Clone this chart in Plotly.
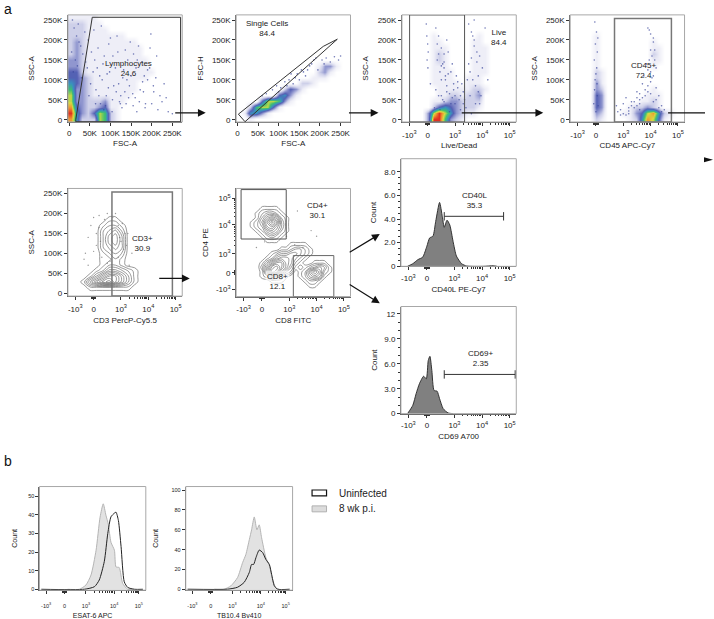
#!/usr/bin/python3
"""Flow cytometry gating figure: dot plots, contour plots and histograms."""

import plotly.graph_objs as go

WIDTH, HEIGHT = 714, 619
TEXT = '#222222'
FONT = 'Liberation Sans'

# density, one digit per cell, top row first
LYMPH_GRID = [
    '11111000000000000000', '22211100000000000000', '22211110000000000000',
    '22211111110000000000', '23211111111100000000', '23211111111110000000',
    '23211111111110000000', '33211111111111000000', '33211111111111000000',
    '44211111111111100000', '44321111111111000000', '54321111111100000000',
    '63321111111100000000', '73321111111000000000', '73322231110000000000',
    '84322341100000000000', '95324762100000000000', '85222762100000000000']
SINGLE_GRID = [
    '00000000000000000000', '00000000000000000000', '00000000000000000000',
    '00000000000000000000', '00000000000000000000', '00000000000000000000',
    '00000000000000000000', '00000000000000000000', '00000000000000133100',
    '00000000000000231000', '00000000000001110000', '00000000000221000000',
    '00000000243100000000', '00000004531000000000', '00004776310000000000',
    '00267741000000000000', '01553100000000000000', '00100000000000000000']
LIVE_GRID = [
    '00000000000000000000', '00000000000000000000', '00000000000000000000',
    '00000100000001000000', '00000110000011000000', '00000111000011100000',
    '00000121000011100000', '00000121000011100000', '00000111000011100000',
    '00000111100011100000', '00000111100111000000', '00000111110111000000',
    '00000011111122100000', '00000011221223000000', '00000112332222000000',
    '00000245432221000000', '00003797532110000000', '00003996321000000000']
CD45_GRID = [
    '00000000000000000000', '00000000000000000000', '00000000000000000000',
    '00001000000000000000', '00001000000000100000', '00001000000000110000',
    '00001000000000210000', '00001000000000110000', '00001000000000100000',
    '00002100000000000000', '00002100000000000000', '00003100000000000000',
    '00003200000000100000', '00004300000001110000', '00004300000011210000',
    '00004300001223210000', '00003200011347852100', '00002100001258741000']

# contour levels
CD3_GRID = [
    '000000000000000000', '000000000000000000', '000000000000000000',
    '000000000000000000', '000000000000000000', '000000110000000000',
    '000001221000000000', '000002342000000000', '000002453000000000',
    '000002453000000000', '000002343000000000', '000001232000000000',
    '000001121000000000', '000001221000000000', '000012443210000000',
    '000135775310000000', '001468975310000000', '000111111100000000',
    '000000000000000000']
CD4_CD8_GRID = [
    '000000000000000000000000', '000000000000000000000000', '000000000000000000000000',
    '000000000000000000000000', '000001111000000000000000', '000012332100000000000000',
    '000013565210000000000000', '000124797310000000000000', '000123675310000000000000',
    '000012454210000000000000', '000001232100000000000000', '000000111000000000000000',
    '000000000001111000000000', '000000000112332100000000', '000000012334432100000000',
    '000000124554321000000000', '000001357754210011100000', '000002589753101234310000',
    '000001598532012575210000', '000001243210012454100000', '000000011100001221000000',
    '000000000000000110000000', '000000000000000000000000', '000000000000000000000000']

# single events scattered round the dense areas, x then y
LYMPH_DOT_X = [8, 12, 18, 22, 28, 33, 6, 15, 24, 38, 44, 10, 20, 30, 40, 52, 58, 65, 72, 80,
               88, 95, 105, 112, 120, 128, 135, 142, 150, 160, 168, 178, 185, 195, 205, 215,
               225, 240, 70, 85, 100, 118, 132, 148, 165, 182, 198, 212, 76, 92, 108, 125,
               140, 155, 172, 190, 230, 250,
               46, 54, 62, 68, 74, 82, 90, 98, 106, 114, 122, 130, 138, 146, 154, 162, 170,
               180, 190, 200, 210, 220, 235, 60, 78, 96, 116, 136, 156, 176, 196, 48, 64, 84,
               104, 124, 144, 164, 184, 204]
LYMPH_DOT_Y = [250, 230, 210, 240, 185, 165, 170, 150, 195, 220, 130, 120, 135, 105, 145, 90,
               120, 75, 60, 100, 35, 80, 50, 130, 90, 30, 70, 150, 110, 55, 185, 95, 40, 130,
               70, 25, 45, 20, 180, 160, 205, 170, 125, 195, 150, 110, 215, 160, 40, 115, 85,
               60, 100, 35, 75, 125, 90, 15,
               200, 170, 150, 130, 110, 140, 60, 120, 160, 70, 45, 105, 40, 85, 65, 130, 45,
               70, 100, 40, 105, 60, 55, 225, 235, 190, 210, 175, 165, 145, 180, 60, 40, 25,
               20, 40, 55, 20, 30, 85]
SINGLE_DOT_X = [60, 70, 85, 95, 105, 115, 125, 135, 145, 155, 165, 175, 185, 195, 205, 215,
                225, 235, 245, 250, 100, 120, 140, 160, 180, 130, 150, 170, 190, 210]
SINGLE_DOT_Y = [60, 65, 75, 85, 80, 95, 100, 90, 115, 125, 110, 135, 150, 125, 150, 155,
                145, 158, 150, 160, 70, 85, 105, 120, 140, 115, 100, 125, 155, 140]
LIVE_DOT_X = [-0.05, -0.03, 0, 0.02, -0.02, 0.01, 0.3, 0.4, 0.5, 0.6, 0.7, 0.35, 0.45, 0.55,
              0.65, 0.75, 0.85, 0.95, 0.3, 0.5, 0.7, 0.9, 1.1, 1.2, 1.3, 1.4, 1.5, 1.6, 1.7,
              1.8, 1.9, 2, 2.1, 1.55, 1.65, 1.75, 1.85, 1.95, 0.25, 0.45, 0.6, 0.8, 1.0, 1.2,
              1.6, 1.9, 1.45, 1.7, 2.2, 0.1,
              0.4, 0.55, 0.7, 0.85, 1, 1.15, 1.3, 0.5, 0.65, 0.8, 0.95, 1.1, 1.25, 0.6, 0.9,
              1.05, 0.35, 0.5, 0.75, 1.35, 1.5, 1.6, 1.7, 1.8, 1.55, 1.75, 1.65, 1.85, 0.4, 0.6]
LIVE_DOT_Y = [240, 210, 190, 170, 150, 130, 230, 210, 180, 165, 200, 150, 120, 140, 100, 170,
              120, 90, 75, 60, 85, 55, 80, 60, 40, 30, 240, 220, 200, 170, 160, 130, 230, 120,
              100, 85, 70, 60, 30, 25, 45, 20, 40, 25, 15, 40, 100, 250, 100, 90,
              60, 50, 70, 40, 60, 50, 70, 100, 110, 65, 75, 95, 90, 130, 140, 110, 190, 135,
              115, 50, 140, 155, 185, 145, 60, 40, 210, 110, 165, 145]
CD45_DOT_X = [-0.04, 0.02, -0.02, 0.05, -0.06, 0.03, 0, 0.07, -0.03, 0.04, 1.9, 2.0, 2.1, 2.15,
              2.05, 1.95, 2.2, 2.0, 2.1, 1.85, 1.7, 1.8, 1.6, 1.5, 1.4, 1.3, 1.2, 1.0, 0.9, 0.8,
              1.5, 1.6, 2.3, 2.4, 2.5, 1.1, 1.9, 1.75, 2.2, 0.75,
              1.0, 1.2, 1.4, 1.6, 1.8, 2.0, 2.2, 2.4, 1.1, 1.3, 1.5, 1.7, 1.9, 2.1, 2.3, 0.9,
              1.2, 1.6, 2.0, -0.05, 0.05, -0.08, 0.08, 0, 2.0, 2.1, 1.9, 2.05, 1.95, 2.15]
CD45_DOT_Y = [245, 220, 190, 170, 150, 130, 115, 205, 100, 90, 230, 215, 195, 175, 160, 150,
              130, 120, 110, 140, 90, 75, 65, 55, 45, 35, 30, 40, 25, 20, 70, 50, 60, 35, 25,
              55, 85, 110, 80, 35,
              15, 22, 30, 40, 60, 65, 50, 20, 12, 45, 35, 55, 70, 45, 30, 12, 15, 25, 95, 75,
              60, 40, 35, 20, 175, 205, 125, 105, 225, 150]
CD3_DOT_X = [-0.3, -0.2, -0.1, 0, 0.1, 0.2, 0.3, 0.5, 0.7, 0.9, 1, 1.2, 1.4, -0.2, 0.1, 0.4,
             0.9, 1.1, 1.3, 0.2, 0.5, 0.8, 1.15, -0.35, 0, 1.05, 0.25, 0.95, 1.25, 0.6]
CD3_DOT_Y = [100, 140, 170, 190, 120, 195, 90, 200, 190, 170, 130, 120, 100, 70, 150, 185,
             90, 110, 70, 165, 75, 200, 150, 85, 105, 175, 130, 140, 150, 80]
CD4_DOT_X = [1.2, 1.8, 2.0, 1.5, 0.9, 1.3, -0.2, 0.1]
CD4_DOT_Y = [1.0, 1.5, 1.3, 0.9, 1.3, 2.2, 0.9, 1.1]

# histograms
CD40L_X = [-0.70, -0.51, -0.33, -0.15, 0, 0.10, 0.22, 0.32, 0.46, 0.56, 0.63, 0.73,
           0.83, 0.95, 1.07, 1.26, 1.44, 2.05, 2.41, 2.54]
CD40L_Y = [0, 0.22, 0.56, 0.78, 1.70, 2.4, 2.55, 3.8, 5.4, 4.2, 3.3, 3.9,
           3.5, 2.1, 0.87, 0.22, 0.03, 0, 0.05, 0]
CD69_X = [-0.70, -0.51, -0.39, -0.27, -0.12, -0.02, 0.05, 0.11, 0.18, 0.26, 0.37,
          0.46, 0.59, 0.77, 0.95]
CD69_Y = [0, 1.0, 2.4, 3.6, 4.5, 4.2, 6.4, 6.9, 5.2, 2.8, 2.7, 1.8, 0.6, 0.08, 0]

ESAT_INF_X = [0.12, 0.56, 0.81, 1.0, 1.19, 1.34, 1.46, 1.56, 1.65, 1.75, 1.88, 1.94,
              2.06, 2.19, 2.38, 2.63]
ESAT_INF_Y = [0, 0, 2.3, 7.7, 21, 38.8, 46, 39.9, 35, 25.3, 21, 12, 11.7, 3.2, 0, 0]
ESAT_UNI_X = [-0.87, 0.75, 1.13, 1.31, 1.5, 1.63, 1.75, 1.88, 1.94, 2.03, 2.13, 2.25,
              2.38, 2.63, 2.95]
ESAT_UNI_Y = [0, 0, 1.4, 5, 15, 30, 39, 41, 41.5, 37, 23, 4, 1, 0, 0]

TB_INF_X = [0.125, 0.5, 0.75, 1.0, 1.19, 1.31, 1.44, 1.525, 1.625, 1.725, 1.81, 1.9,
            2.06, 2.19, 2.31, 2.44, 2.56]
TB_INF_Y = [0, 0, 3.4, 11.8, 27, 35, 50, 60, 73, 60, 65, 52, 32, 24, 10, 1, 0]
TB_UNI_X = [-0.87, 0.625, 1.0, 1.25, 1.44, 1.525, 1.6, 1.69, 1.81, 1.94, 2.06, 2.19,
            2.275, 2.375, 2.5, 2.95]
TB_UNI_Y = [0, 0, 2, 7, 17, 25, 25, 32, 39.5, 37, 30, 25, 15, 3.5, 0, 0]

K_TICKS = [0, 50000, 100000, 150000, 200000, 250000]
K_LABELS = ['0', '50K', '100K', '150K', '200K', '250K']
BIEX_LABELS = ['-10<sup>3</sup>', '0', '10<sup>3</sup>', '10<sup>4</sup>', '10<sup>5</sup>']
BIEX_TICKS = [-0.67, 0, 1, 2, 3]
BIEX_Y_TICKS = [-0.59, 0, 0.67, 1.7, 2.65]
B_TICKS = [-0.69, 0, 0.81, 1.87, 2.8]

DENSITY_SCALE = [
    [0, '#ffffff'], [0.11, '#eeeef7'], [0.22, '#cfd1ea'], [0.33, '#9298d0'],
    [0.44, '#5560b4'], [0.55, '#3a90c0'], [0.68, '#3fc070'], [0.8, '#d8dc40'],
    [0.9, '#f09030'], [1, '#e03020']]

fig = go.Figure()
shapes = []
annotations = []


def paper_x(pixel):
    """Window pixel to paper x."""
    return pixel / WIDTH


def paper_y(pixel):
    """Window pixel to paper y."""
    return 1 - pixel / HEIGHT


def xid(num):
    """Plotly id of x axis number num."""
    return 'x' if num == 1 else f'x{num}'


def yid(num):
    """Plotly id of y axis number num."""
    return 'y' if num == 1 else f'y{num}'


def biex_minor(ticks):
    """Minor tick positions between the decades of a biexponential axis."""
    steps = [0.30, 0.48, 0.60, 0.70, 0.78, 0.85, 0.90, 0.95]
    minor = [-0.08, -0.05, -0.03, 0.03, 0.05, 0.08]
    for low, high in zip(ticks[2:], ticks[3:]):
        minor += [low + (high - low) * step for step in steps]
    return minor


def add_axes(num, box, xrange, yrange, xticks, xlabels, yticks, ylabels, xtitle, ytitle,
             xminor=None, yminor=None, tick_size=8, title_size=8, xshift=0, ystand=6, xstand=3):
    """Create one pair of axes from its box in window pixels."""
    left, top, right, bottom = box
    common = dict(showgrid=False, zeroline=False, showline=True, linecolor='#666666',
                  linewidth=1, ticks='outside', tickcolor='#333333', ticklen=3,
                  tickmode='array', tickfont=dict(size=tick_size, color=TEXT, family=FONT))
    xaxis = dict(common, domain=[paper_x(left), paper_x(right)], range=xrange,
                 anchor=yid(num), tickvals=xticks, ticktext=xlabels, tickangle=0,
                 ticklabelstandoff=xshift,
                 title=dict(text=xtitle, standoff=xstand, font=dict(size=title_size, color=TEXT, family=FONT)))
    yaxis = dict(common, domain=[paper_y(bottom), paper_y(top)], range=yrange,
                 anchor=xid(num), tickvals=yticks, ticktext=ylabels,
                 title=dict(text=ytitle, standoff=ystand, font=dict(size=title_size, color=TEXT, family=FONT)))
    if xminor:
        xaxis['minor'] = dict(tickvals=xminor, ticks='outside', ticklen=1.5, tickcolor='#333333')
    if yminor:
        yaxis['minor'] = dict(tickvals=yminor, ticks='outside', ticklen=1.5, tickcolor='#333333')
    fig.layout[f'xaxis{num}'] = xaxis
    fig.layout[f'yaxis{num}'] = yaxis
    shapes.append(dict(type='rect', xref=f'{xid(num)} domain', yref=f'{yid(num)} domain',
                       x0=0, x1=1, y0=0, y1=1, line=dict(color='#a8a8a8', width=1)))


def add_density(num, rows, xrange, yrange):
    """Draw a digit grid as a smoothed density picture."""
    z = [[int(c) for c in row] for row in reversed(rows)]
    dx = (xrange[1] - xrange[0]) / len(rows[0])
    dy = (yrange[1] - yrange[0]) / len(rows)
    fig.add_trace(go.Heatmap(z=z, x0=xrange[0] + dx / 2, dx=dx, y0=yrange[0] + dy / 2, dy=dy,
                             zmin=0, zmax=9, colorscale=DENSITY_SCALE, zsmooth='best',
                             showscale=False, hoverinfo='skip',
                             xaxis=xid(num), yaxis=yid(num)))


def add_dots(num, xvals, yvals, color='#3d4a9e', size=1.6):
    """Single events as tiny markers."""
    fig.add_trace(go.Scatter(x=xvals, y=yvals, mode='markers', hoverinfo='skip',
                             marker=dict(color=color, size=size, opacity=0.75, line=dict(width=0)),
                             xaxis=xid(num), yaxis=yid(num)))


def add_contour(num, rows, xrange, yrange):
    """Draw a digit grid as contour lines."""
    z = [[int(c) for c in row] for row in reversed(rows)]
    dx = (xrange[1] - xrange[0]) / len(rows[0])
    dy = (yrange[1] - yrange[0]) / len(rows)
    fig.add_trace(go.Contour(z=z, x0=xrange[0] + dx / 2, dx=dx, y0=yrange[0] + dy / 2, dy=dy,
                             contours=dict(coloring='none', start=0.5, end=9.5, size=0.8),
                             line=dict(color='#6e6e6e', width=0.7, smoothing=1),
                             showscale=False, hoverinfo='skip',
                             xaxis=xid(num), yaxis=yid(num)))


def add_hist(num, xvals, yvals, fill, line, width=1):
    """Draw one smoothed histogram outline with its fill."""
    fig.add_trace(go.Scatter(x=xvals, y=yvals, mode='lines', fill='tozeroy' if fill else None,
                             fillcolor=fill, line=dict(color=line, width=width, shape='spline', smoothing=0.6),
                             hoverinfo='skip', xaxis=xid(num), yaxis=yid(num)))


def add_gate(num, points, color='#333333', width=1):
    """Polygon gate in data coordinates."""
    path = 'M ' + ' L '.join(f'{x},{y}' for x, y in points) + ' Z'
    shapes.append(dict(type='path', path=path, xref=xid(num), yref=yid(num),
                       line=dict(color=color, width=width)))


def add_label(num, text, x, y, bgcolor=None):
    """Gate name and percentage, centred on a data position."""
    annotations.append(dict(text=text, x=x, y=y, xref=xid(num), yref=yid(num), showarrow=False,
                            font=dict(size=8, color=TEXT, family=FONT), align='center',
                            bgcolor=bgcolor))


def add_arrow(x0, y0, x1, y1):
    """Black arrow between two window pixels."""
    annotations.append(dict(x=paper_x(x1), y=paper_y(y1), xref='paper', yref='paper',
                            ax=x0 - x1, ay=y0 - y1, axref='pixel', ayref='pixel', text='',
                            showarrow=True, arrowhead=2, arrowsize=1.3, arrowwidth=1.2,
                            arrowcolor='#111111'))


def to_thousands(values):
    """Dot lists are typed in thousands of events on the scatter axes."""
    return [value * 1000 for value in values]


# row one: dot plots
K_X = [-3000, 274000]
K_Y = [-5700, 263000]
BIEX_X = [-0.94, 3.24]
add_axes(1, (67, 15, 181.5, 123), K_X, K_Y, K_TICKS, K_LABELS, K_TICKS, K_LABELS, 'FSC-A', 'SSC-A', ystand=7)
add_density(1, LYMPH_GRID, K_X, K_Y)
add_dots(1, to_thousands(LYMPH_DOT_X), to_thousands(LYMPH_DOT_Y))
add_gate(1, [(16000, 0), (56000, 257000), (270000, 257000), (270000, -5000), (16000, -5000)])
add_label(1, 'Lymphocytes<br>24.6', 143000, 128000)

add_axes(2, (235.5, 15, 350, 123), K_X, K_Y, K_TICKS, K_LABELS, K_TICKS, K_LABELS, 'FSC-A', 'FSC-H', ystand=7)
add_density(2, SINGLE_GRID, K_X, K_Y)
add_dots(2, to_thousands(SINGLE_DOT_X), to_thousands(SINGLE_DOT_Y))
add_gate(2, [(2400, 14000), (208000, 184000), (242000, 202000), (18500, -5000)])
add_label(2, 'Single Cells<br>84.4', 71000, 228000)

add_axes(3, (401.5, 15, 516, 123), BIEX_X, K_Y, BIEX_TICKS, BIEX_LABELS, K_TICKS, K_LABELS,
         'Live/Dead', 'SSC-A', xminor=biex_minor(BIEX_TICKS), xshift=2, ystand=7)
add_density(3, LIVE_GRID, BIEX_X, K_Y)
add_dots(3, LIVE_DOT_X, to_thousands(LIVE_DOT_Y))
add_gate(3, [(-0.66, -5700), (-0.66, 263000), (1.35, 263000), (1.35, -5700)], color='#555555')
add_label(3, 'Live<br>84.4', 2.6, 206000)

add_axes(4, (570, 15, 684.5, 123), BIEX_X, K_Y, BIEX_TICKS, BIEX_LABELS, K_TICKS, K_LABELS,
         'CD45 APC-Cy7', 'SSC-A', xminor=biex_minor(BIEX_TICKS), xshift=2, ystand=7)
add_density(4, CD45_GRID, BIEX_X, K_Y)
add_dots(4, CD45_DOT_X, to_thousands(CD45_DOT_Y))
add_gate(4, [(0.68, -5700), (0.68, 254000), (2.76, 254000), (2.76, -5700)], color='#777777', width=1.5)
add_label(4, 'CD45+<br>72.4', 1.74, 123000)

# row two: contour plots and histograms
P5_Y = [-7500, 263000]
BIEX_Y = [-0.85, 3.0]
add_axes(5, (67, 190, 181.5, 298.5), BIEX_X, P5_Y, BIEX_TICKS, BIEX_LABELS, K_TICKS, K_LABELS,
         'CD3 PercP-Cy5.5', 'SSC-A', xminor=biex_minor(BIEX_TICKS), xshift=2, xstand=4, ystand=7)
add_dots(5, CD3_DOT_X, to_thousands(CD3_DOT_Y), color='#777777', size=1.4)
add_contour(5, CD3_GRID, BIEX_X, P5_Y)
add_gate(5, [(0.67, -7500), (0.67, 254000), (2.88, 254000), (2.88, -7500)], color='#777777', width=1.5)
add_label(5, 'CD3+<br>30.9', 1.78, 124000)

add_axes(6, (235.5, 190, 350, 299), BIEX_X, BIEX_Y, BIEX_TICKS, BIEX_LABELS, BIEX_Y_TICKS, BIEX_LABELS,
         'CD8 FITC', 'CD4 PE', xminor=biex_minor(BIEX_TICKS), yminor=biex_minor(BIEX_Y_TICKS),
         xshift=2, xstand=4, ystand=6)
add_dots(6, CD4_DOT_X, CD4_DOT_Y, color='#777777', size=1.4)
add_contour(6, CD4_CD8_GRID, BIEX_X, BIEX_Y)
add_gate(6, [(-0.76, 1.2), (-0.76, 2.96), (0.89, 2.96), (0.89, 1.2)], color='#555555')
add_gate(6, [(1.15, -0.85), (1.15, 0.61), (2.63, 0.61), (2.63, -0.85)], color='#666666')
add_label(6, 'CD4+<br>30.1', 2.05, 2.2)
add_label(6, 'CD8+<br>12.1', 0.56, -0.32, bgcolor='rgba(255,255,255,0.7)')

add_axes(7, (400.5, 160, 516, 268.5), BIEX_X, [0, 9.1], BIEX_TICKS, BIEX_LABELS, [0, 2, 4, 6, 8],
         ['0', '2.0', '4.0', '6.0', '8.0'], 'CD40L PE-Cy7', 'Count', xminor=biex_minor(BIEX_TICKS),
         yminor=[0.5, 1, 1.5, 2.5, 3, 3.5, 4.5, 5, 5.5, 6.5, 7, 7.5], xshift=1, xstand=4, ystand=6)
add_hist(7, CD40L_X, CD40L_Y, '#808080', '#333333')
fig.add_trace(go.Scatter(x=[0.63, 2.78], y=[4.23, 4.23], mode='lines+markers', hoverinfo='skip',
                         line=dict(color='#333333', width=1),
                         marker=dict(symbol='line-ns', size=6, line=dict(color='#333333', width=1)),
                         xaxis='x7', yaxis='y7'))
add_label(7, 'CD40L<br>35.3', 1.71, 5.55)

add_axes(8, (400.5, 309, 516, 417), BIEX_X, [0, 12.9], BIEX_TICKS, BIEX_LABELS, [0, 3, 6, 9, 12],
         ['0', '3.0', '6.0', '9.0', '12'], 'CD69 A700', 'Count', xminor=biex_minor(BIEX_TICKS),
         yminor=[1, 2, 4, 5, 7, 8, 10, 11], xshift=1, xstand=4, ystand=5)
add_hist(8, CD69_X, CD69_Y, '#808080', '#333333')
fig.add_trace(go.Scatter(x=[0.63, 3.2], y=[4.72, 4.72], mode='lines+markers', hoverinfo='skip',
                         line=dict(color='#333333', width=1),
                         marker=dict(symbol='line-ns', size=6, line=dict(color='#333333', width=1)),
                         xaxis='x8', yaxis='y8'))
add_label(8, 'CD69+<br>2.35', 1.93, 6.6)

# panel b
B_X = [-0.94, 3.06]
add_axes(9, (38.5, 490.5, 145, 595), B_X, [-0.5, 55.3], B_TICKS, BIEX_LABELS, [0, 10, 20, 30, 40, 50],
         ['0', '10', '20', '30', '40', '50'], 'ESAT-6 APC', 'Count', xminor=biex_minor(B_TICKS),
         tick_size=5.5, title_size=7, xshift=7, xstand=5, ystand=9)
add_hist(9, ESAT_INF_X, ESAT_INF_Y, '#e2e2e2', '#b4b4b4')
add_hist(9, ESAT_UNI_X, ESAT_UNI_Y, None, '#222222')

add_axes(10, (185, 490.5, 292, 595), B_X, [-1, 103.7], B_TICKS, BIEX_LABELS, [0, 20, 40, 60, 80, 100],
         ['0', '20', '40', '60', '80', '100'], 'TB10.4 Bv410', 'Count', xminor=biex_minor(B_TICKS),
         tick_size=5.5, title_size=7, xshift=7, xstand=5, ystand=11)
add_hist(10, TB_INF_X, TB_INF_Y, '#e2e2e2', '#b4b4b4')
add_hist(10, TB_UNI_X, TB_UNI_Y, None, '#222222')

# legend of panel b
shapes.append(dict(type='rect', xref='paper', yref='paper', x0=paper_x(311.5), x1=paper_x(326),
                   y0=paper_y(500), y1=paper_y(494), line=dict(color='#111111', width=1.2), fillcolor='white'))
shapes.append(dict(type='rect', xref='paper', yref='paper', x0=paper_x(311.5), x1=paper_x(326),
                   y0=paper_y(516), y1=paper_y(510), line=dict(color='#b0b0b0', width=1), fillcolor='#dcdcdc'))
for label, ypos in (('Uninfected', 497.5), ('8 wk p.i.', 512.5)):
    annotations.append(dict(text=label, x=paper_x(336), y=paper_y(ypos), xref='paper', yref='paper',
                            xanchor='left', yanchor='middle', showarrow=False,
                            font=dict(size=10, color=TEXT, family=FONT)))

# panel letters
for label, xpos, ypos in (('a', 1, 9), ('b', 1, 465)):
    annotations.append(dict(text=label, x=paper_x(xpos), y=paper_y(ypos), xref='paper', yref='paper',
                            xanchor='left', yanchor='middle', showarrow=False,
                            font=dict(size=14, color='#111111', family=FONT)))

# arrows between the gates
add_arrow(173, 113.7, 205, 113.7)
add_arrow(347, 113.7, 378, 113.7)
add_arrow(460, 113.7, 543, 113.7)
add_arrow(157, 280.7, 189, 280.7)
add_arrow(347.7, 255, 379.3, 236)
add_arrow(347.7, 286, 379.3, 305.7)
shapes.append(dict(type='line', xref='paper', yref='paper', x0=paper_x(668), x1=paper_x(705),
                   y0=paper_y(113.7), y1=paper_y(113.7), line=dict(color='#111111', width=1.2)))
shapes.append(dict(type='path', xref='paper', yref='paper', fillcolor='#111111', line=dict(width=0),
                   path=f'M {paper_x(704)},{paper_y(158.5)} L {paper_x(713)},{paper_y(161)} '
                        f'L {paper_x(704)},{paper_y(163.5)} Z'))

fig.update_layout(width=WIDTH, height=HEIGHT, margin=dict(l=0, r=0, t=0, b=0),
                  paper_bgcolor='white', plot_bgcolor='white', showlegend=False,
                  font=dict(family=FONT), shapes=shapes, annotations=annotations)

fig.write_html("out.html", config=dict(displayModeBar=False),
               post_script="document.body.style.margin='0';")
